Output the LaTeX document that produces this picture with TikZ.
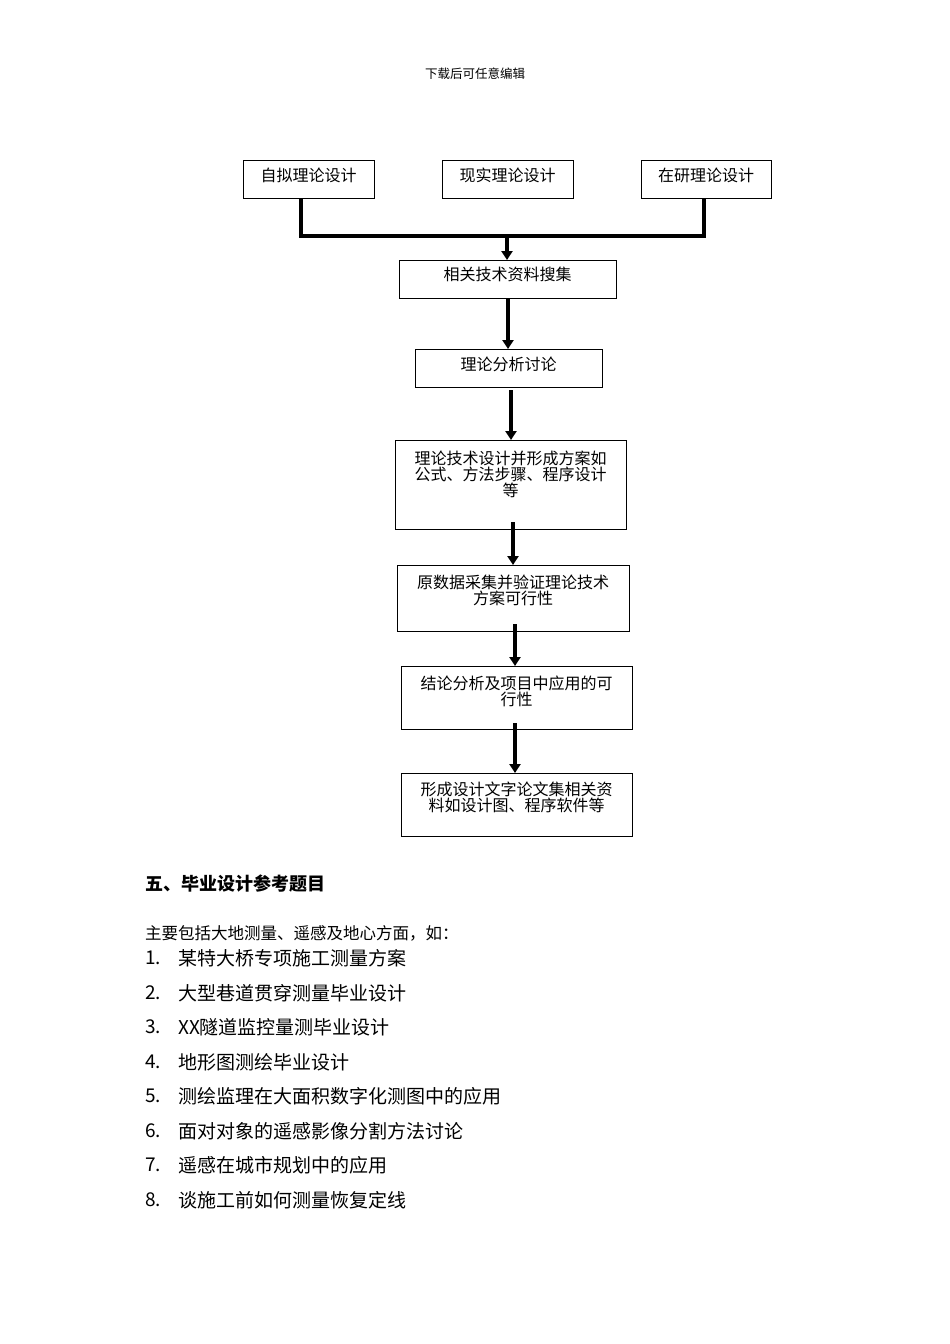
\documentclass[tikz,border=0pt]{standalone}
\usepackage{fontspec}
\setmainfont{Noto Sans CJK SC}
\usetikzlibrary{arrows.meta}
\begin{document}
\begin{tikzpicture}[x=1pt,y=-1pt,
 box/.style={draw,line width=0.8pt,inner sep=0pt},
 btxt/.style={font=\fontsize{16}{16}\selectfont,align=center,anchor=north,inner sep=0pt},
 thick arrow/.style={line width=3.5pt,-{Triangle[length=9pt,width=11pt]}},
 bar/.style={line width=3.5pt},
 item/.style={anchor=west,font=\fontsize{19}{20}\selectfont}]
\useasboundingbox (0,0) rectangle (950,1344);
\node[font=\fontsize{12.5}{13}\selectfont] (hdr) at (475,74) {下载后可任意编辑};
% boxes
\draw[box] (243,160) rectangle (374,198);
\node[btxt] (b1) at (308.5,168) {自拟理论设计};
\draw[box] (442,160) rectangle (573,198);
\node[btxt] (b2) at (507.5,168) {现实理论设计};
\draw[box] (641,160) rectangle (771,198);
\node[btxt] (b3) at (706,168) {在研理论设计};
\draw[box] (399,260) rectangle (616,298);
\node[btxt] (b4) at (507.5,267) {相关技术资料搜集};
\draw[box] (415,349) rectangle (602,387);
\node[btxt] (b5) at (508.5,357) {理论分析讨论};
\draw[box] (395,440) rectangle (626,529);
\node[btxt] (b6) at (510.5,451) {理论技术设计并形成方案如\\公式、方法步骤、程序设计\\等};
\draw[box] (397,565) rectangle (629,631);
\node[btxt] (b7) at (513,575) {原数据采集并验证理论技术\\方案可行性};
\draw[box] (401,666) rectangle (632,729);
\node[btxt] (b8) at (516.5,676) {结论分析及项目中应用的可\\行性};
\draw[box] (401,773) rectangle (632,836);
\node[btxt] (b9) at (516.5,782) {形成设计文字论文集相关资\\料如设计图、程序软件等};
% connectors
\coordinate (j1) at (301,236); \coordinate (j3) at (704,236);
\coordinate (s1) at (301,198); \coordinate (s3) at (704,198);
\draw[bar] (s1) -- (j1) -- (j3) -- (s3);
\draw[thick arrow] (507,234) -- (507,260);
\draw[thick arrow] (508,298) -- (508,349);
\draw[thick arrow] (511,390) -- (511,440);
\draw[thick arrow] (513,522) -- (513,565);
\draw[thick arrow] (515,624) -- (515,666);
\draw[thick arrow] (515,723) -- (515,773);
% text
\node[anchor=west,inner sep=0pt,font=\bfseries\fontsize{18}{18}\selectfont] (h5) at (145,884) {五、毕业设计参考题目};
\node[anchor=west,inner sep=0pt,font=\fontsize{16.5}{16}\selectfont] (intro) at (145,933) {主要包括大地测量、遥感及地心方面，如：};
\foreach \n/\y/\t in {1/958/某特大桥专项施工测量方案,2/993/大型巷道贯穿测量毕业设计,3/1027/XX隧道监控量测毕业设计,4/1062/地形图测绘毕业设计,5/1096/测绘监理在大面积数字化测图中的应用,6/1131/面对对象的遥感影像分割方法讨论,7/1165/遥感在城市规划中的应用,8/1200/谈施工前如何测量恢复定线}{
 \node[item,inner sep=0pt] (n\n) at (145,\y) {\n.};
 \node[item,inner sep=0pt] (t\n) at (178,\y) {\t};
}
\end{tikzpicture}
\end{document}
